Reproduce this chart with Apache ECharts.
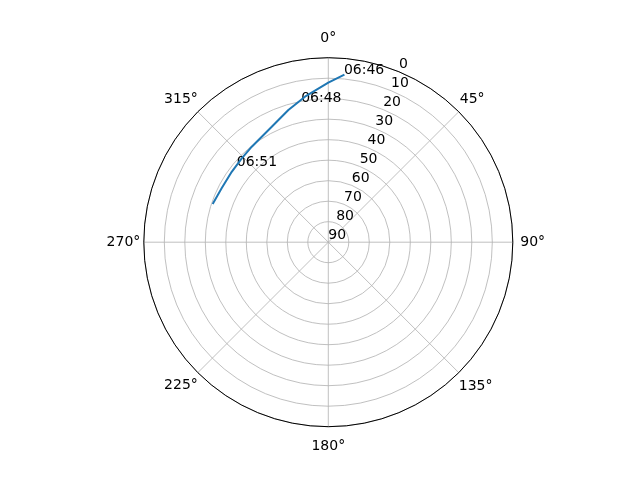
<!DOCTYPE html>
<html>
<head>
<meta charset="utf-8">
<script src="https://cdn.jsdelivr.net/npm/echarts@6/dist/echarts.min.js"></script>
<style>
  html, body { margin: 0; padding: 0; background: #fff; }
  #chart { width: 640px; height: 480px; }
</style>
</head>
<body>
<div id="chart"></div>
<script>
// satellite track: azimuth (deg, clockwise from north) and elevation (deg)
var azimuth   = [5.5, 0, 350.9, 343.2, 333.9, 321.3, 314.1, 306.1, 296.8, 288.3];
var elevation = [7.9, 12.2, 18.1, 22.6, 27.3, 30.3, 31.2, 31.7, 31.7, 30.6];

// time annotations
var timeLabels = ['06:46', '06:48', '06:51'];
var timeAz     = [5.5, 349.2, 309.9];
var timeEl     = [7.9, 20.7, 32.1];

var FONT = 'DejaVu Sans';
var chart = echarts.init(document.getElementById('chart'));

var track = azimuth.map(function (a, i) { return [elevation[i], a]; });
var marks = timeLabels.map(function (t, i) {
  return { name: t, value: [timeEl[i], timeAz[i]] };
});

// per-label padding so the degree labels sit like matplotlib's
function lbl(pad) {
  return { padding: pad, color: '#000', fontFamily: FONT, fontSize: 14 };
}

var option = {
  animation: false,
  polar: [
    { center: [328.3, 242.2], radius: 184.5 },
    { center: [328.3, 242.2], radius: 184.5 }
  ],
  angleAxis: [
    {
      polarIndex: 0,
      type: 'value',
      min: 0, max: 360, interval: 45,
      startAngle: 90,
      clockwise: true,
      axisLine: { lineStyle: { color: '#000', width: 1 } },
      axisTick: { show: false },
      splitLine: { lineStyle: { color: '#b0b0b0', width: 0.8 } },
      axisLabel: {
        margin: 0,
        color: '#000',
        fontFamily: FONT,
        fontSize: 14,
        formatter: function (v) {
          if (v === 360) return '';
          return '{a' + v + '|' + v + '°}';
        },
        rich: {
          a0:   lbl([0, 0, 12.5, 0]),
          a45:  lbl([0, 0, 5.5, 1]),
          a90:  lbl([0, 0, 0, 7.5]),
          a135: lbl([7, 0, 0, 0]),
          a180: lbl([13, 0, 0, 0]),
          a225: lbl([6, 0, 0, 0]),
          a270: lbl([0, 3.5, 0, 0]),
          a315: lbl([0, 0, 5.5, 0])
        }
      }
    },
    {
      polarIndex: 1,
      type: 'value',
      min: 0, max: 360,
      startAngle: 67.5,
      show: false
    }
  ],
  radiusAxis: [
    {
      polarIndex: 0,
      type: 'value',
      min: 0, max: 90, interval: 10,
      inverse: true,
      axisLine: { show: false },
      axisTick: { show: false },
      axisLabel: { show: false },
      splitLine: { lineStyle: { color: '#b0b0b0', width: 0.8 } }
    },
    {
      polarIndex: 1,
      type: 'value',
      min: 0, max: 90, interval: 10,
      inverse: true,
      axisLine: { show: false },
      axisTick: { show: false },
      splitLine: { show: false },
      axisLabel: {
        margin: 0,
        rotate: 0,
        align: 'left',
        verticalAlign: 'bottom',
        color: '#000',
        fontFamily: FONT,
        fontSize: 14
      }
    }
  ],
  series: [
    {
      type: 'line',
      coordinateSystem: 'polar',
      polarIndex: 0,
      data: track,
      showSymbol: false,
      symbol: 'none',
      lineStyle: { color: '#1f77b4', width: 2 }
    },
    {
      type: 'scatter',
      coordinateSystem: 'polar',
      polarIndex: 0,
      data: marks,
      symbolSize: 1,
      itemStyle: { color: 'transparent' },
      emphasis: { disabled: true },
      label: {
        show: true,
        position: [0, 0],
        offset: [0, 3.5],
        align: 'left',
        verticalAlign: 'bottom',
        color: '#000',
        opacity: 1,
        textBorderWidth: 0,
        fontWeight: 'normal',
        fontFamily: FONT,
        fontSize: 14,
        formatter: '{b}'
      }
    }
  ]
};

chart.setOption(option);
</script>
</body>
</html>
